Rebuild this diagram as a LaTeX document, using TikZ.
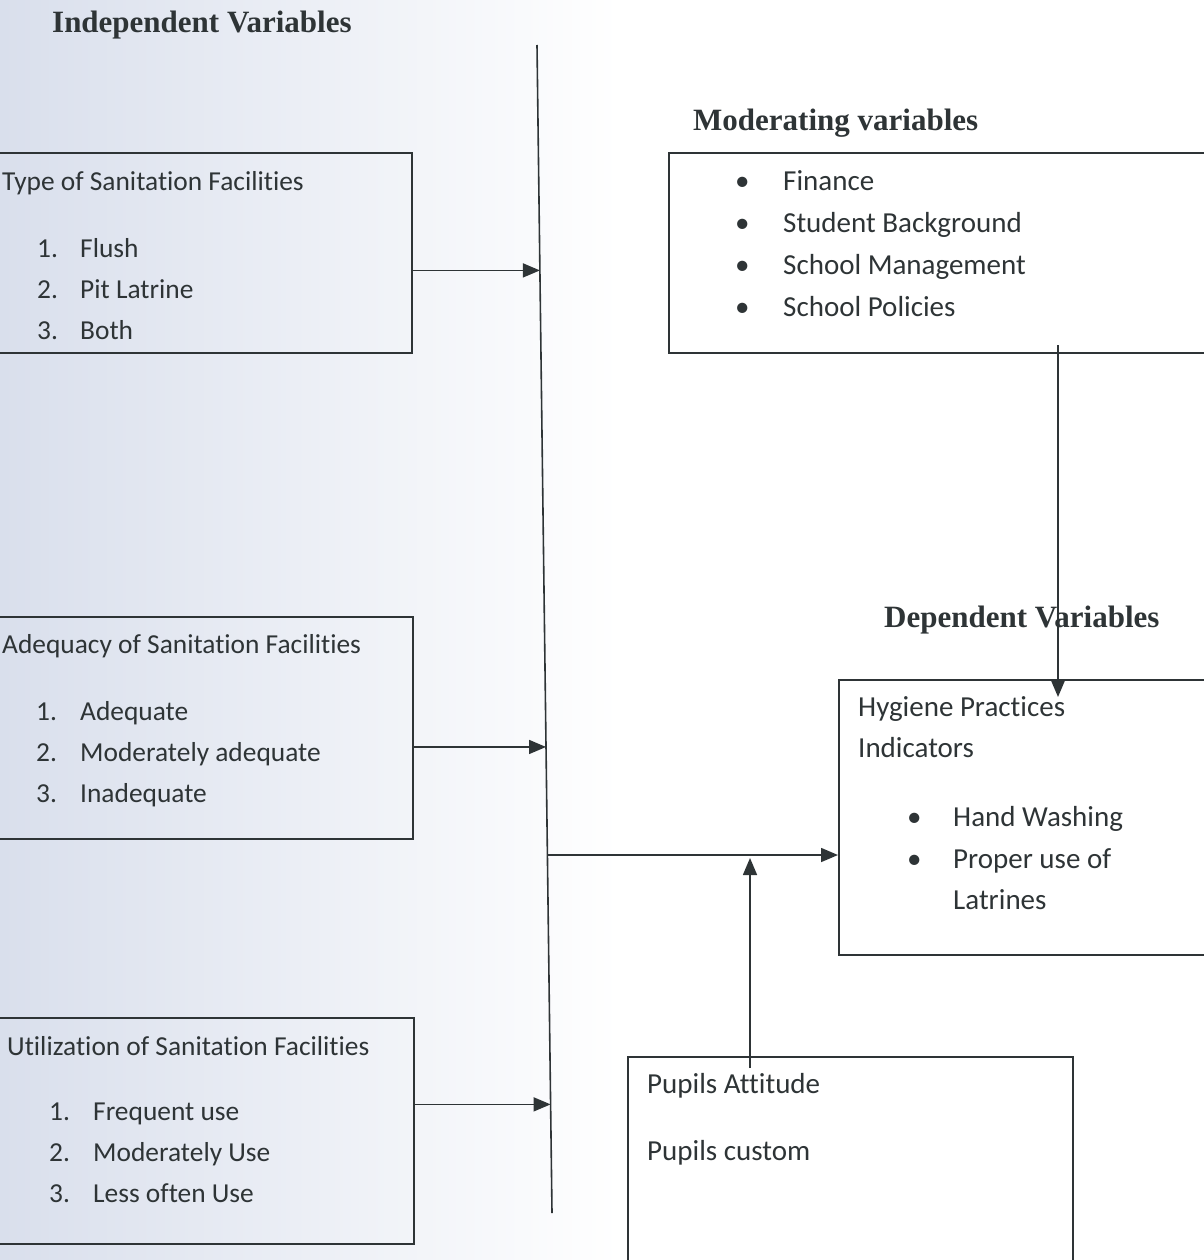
\documentclass[tikz,border=0pt]{standalone}
\usepackage{fontspec}
\setmainfont{Liberation Serif}
\newfontfamily\calfont[Ligatures=CommonOff]{Carlito}
\usepackage{tikz}
\usetikzlibrary{arrows.meta,calc}
\definecolor{ink}{HTML}{2E3436}
\definecolor{scan}{HTML}{D9DFEC}

\tikzset{
  frame/.style={draw=ink, line width=1.6pt, rectangle, anchor=north west, inner sep=0pt},
  head/.style={anchor=base west, inner sep=0pt, text=ink, font=\bfseries\fontsize{31}{34}\selectfont},
  txt/.style={anchor=base west, inner sep=0pt, text=ink, font=\calfont\fontsize{29}{34}\selectfont},
  ltxt/.style={txt, font=\calfont\fontsize{27.4}{32}\selectfont},
  link/.style={draw=ink, line width=1.6pt, -{Triangle[length=17pt,width=14pt]}}
}

\begin{document}
\begin{tikzpicture}[x=1pt,y=-1pt]
\useasboundingbox (0,0) rectangle (1203,1260);
\shade[left color=scan, right color=white] (0,0) rectangle (620,1260);

% headings
\node[head] (indep) at (52,33) {Independent Variables};
\node[head] (modv) at (693,131) {Moderating variables};
\node[head] (depv) at (884,627) {Dependent Variables};

% boxes
\node[frame, minimum width=416pt, minimum height=200pt] (tsf) at (-5,152) {};
\node[frame, minimum width=417pt, minimum height=222pt] (asf) at (-5,616) {};
\node[frame, minimum width=418pt, minimum height=226pt] (usf) at (-5,1017) {};
\node[frame, minimum width=545pt, minimum height=200pt] (mod) at (668,152) {};
\node[frame, minimum width=375pt, minimum height=275pt] (hyg) at (838,679) {};
\node[frame, minimum width=445pt, minimum height=230pt] (pup) at (627,1056) {};

% independent variables
\node[ltxt] (tsft) at (2,190) {Type of Sanitation Facilities};
\foreach \t [count=\i] in {Flush, Pit Latrine, Both} {
  \node[ltxt] (tsfn\i) at (37,{257+41*(\i-1)}) {\i.};
  \node[ltxt] (tsfi\i) at (80,{257+41*(\i-1)}) {\t};
}
\node[ltxt] (asft) at (2,653) {Adequacy of Sanitation Facilities};
\foreach \t [count=\i] in {Adequate, Moderately adequate, Inadequate} {
  \node[ltxt] (asfn\i) at (36,{720+41*(\i-1)}) {\i.};
  \node[ltxt] (asfi\i) at (80,{720+41*(\i-1)}) {\t};
}
\node[ltxt] (usft) at (7,1055) {Utilization of Sanitation Facilities};
\foreach \t [count=\i] in {Frequent use, Moderately Use, Less often Use} {
  \node[ltxt] (usfn\i) at (49,{1120+41*(\i-1)}) {\i.};
  \node[ltxt] (usfi\i) at (93,{1120+41*(\i-1)}) {\t};
}

% moderating variables
\foreach \t [count=\i] in {Finance, Student Background, School Management, School Policies} {
  \node[txt] (modb\i) at (735,{190+42*(\i-1)}) {•};
  \node[txt] (modi\i) at (783,{190+42*(\i-1)}) {\t};
}

% dependent variables
\node[txt] (hygt) at (858,716) {Hygiene Practices};
\node[txt] (hygs) at (858,757) {Indicators};
\node[txt] (hygb1) at (907,826) {•};
\node[txt] (hygi1) at (953,826) {Hand Washing};
\node[txt] (hygb2) at (907,868) {•};
\node[txt] (hygi2) at (953,868) {Proper use of};
\node[txt] (hygi3) at (953,909) {Latrines};

\node[txt] (pupa) at (647,1093) {Pupils Attitude};
\node[txt] (pupc) at (647,1160) {Pupils custom};

% connectors
\coordinate (sptop) at (537,45);
\coordinate (spbot) at (552,1213);
\draw[ink, line width=1.6pt] (sptop) -- (spbot);
\coordinate (in1) at ($(sptop)!0.193!(spbot)$);
\coordinate (in2) at ($(sptop)!0.601!(spbot)$);
\coordinate (in3) at ($(sptop)!0.907!(spbot)$);
\coordinate (out) at ($(sptop)!0.6935!(spbot)$);
\draw[link] (tsf.east |- in1) -- (in1);
\draw[link] (asf.east |- in2) -- (in2);
\draw[link] (usf.east |- in3) -- (in3);
\draw[link] (out) -- (hyg.west |- out);
\coordinate (mdn) at (1058,345);
\coordinate (mtip) at (1058,697);
\draw[link] (mdn) -- (mtip);
\coordinate (pupup) at (750,1068);
\coordinate (ptip) at (750,858);
\draw[link] (pupup) -- (ptip);
\end{tikzpicture}
\end{document}
